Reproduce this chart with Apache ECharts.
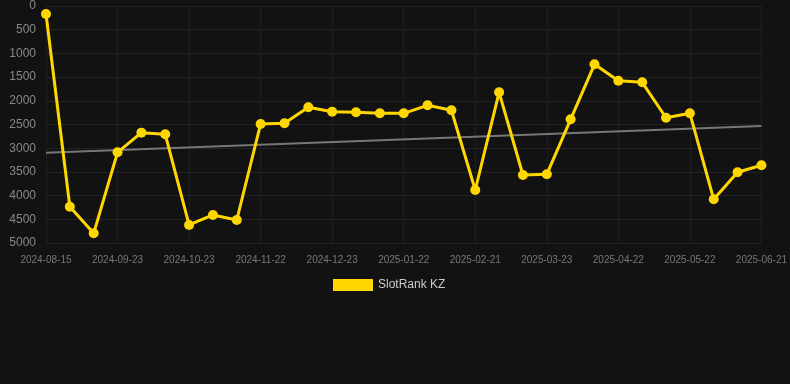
<!DOCTYPE html>
<html>
<head>
<meta charset="utf-8">
<script src="https://cdn.jsdelivr.net/npm/echarts@6/dist/echarts.min.js"></script>
<style>
html,body{margin:0;padding:0;background:#121212;}
#chart{width:790px;height:384px;}
</style>
</head>
<body>
<div id="chart"></div>
<script>
var categories = [
  '2024-08-15','2024-08-28','2024-09-10','2024-09-23','2024-10-03','2024-10-13',
  '2024-10-23','2024-11-02','2024-11-12','2024-11-22','2024-12-02','2024-12-12',
  '2024-12-23','2025-01-02','2025-01-12','2025-01-22','2025-02-01','2025-02-11',
  '2025-02-21','2025-03-03','2025-03-13','2025-03-23','2025-04-02','2025-04-12',
  '2025-04-22','2025-05-02','2025-05-12','2025-05-22','2025-06-01','2025-06-11',
  '2025-06-21'
];
var rankValues = [
  170, 4234, 4796, 3087, 2672, 2707, 4620, 4409, 4515, 2489, 2475, 2137,
  2230, 2243, 2264, 2264, 2095, 2200, 3882, 1821, 3565, 3551, 2390, 1230,
  1576, 1610, 2357, 2264, 4078, 3508, 3361
];
var trendStartEnd = [3095, 2532];
var seriesName = 'SlotRank KZ';

var trendData = categories.map(function (c, i) {
  if (i === 0) return trendStartEnd[0];
  if (i === categories.length - 1) return trendStartEnd[1];
  return null;
});

var chart = echarts.init(document.getElementById('chart'));
chart.setOption({
  backgroundColor: '#121212',
  animation: false,
  grid: { left: 46, right: 28, top: 6, bottom: 141 },
  legend: {
    data: [seriesName],
    left: 328,
    top: 274,
    itemWidth: 40,
    itemHeight: 12,
    icon: 'rect',
    textStyle: { color: '#cccccc', fontSize: 12, fontFamily: 'Arial, Liberation Sans, sans-serif' }
  },
  xAxis: {
    type: 'category',
    data: categories,
    boundaryGap: false,
    axisLine: { show: false },
    axisTick: { show: false },
    axisLabel: { interval: 2, color: '#777777', fontSize: 10, margin: 12, fontFamily: 'Arial, Liberation Sans, sans-serif' },
    splitLine: { show: true, interval: 2, lineStyle: { color: '#1f1f1f', width: 1 } }
  },
  yAxis: {
    type: 'value',
    inverse: true,
    min: 0,
    max: 5000,
    interval: 500,
    axisLine: { show: false },
    axisTick: { show: false },
    axisLabel: { color: '#888888', fontSize: 12, margin: 10, fontFamily: 'Arial, Liberation Sans, sans-serif',
      formatter: function (v) { return String(v); } },
    splitLine: { show: true, lineStyle: { color: '#222222', width: 1 } }
  },
  series: [
    {
      name: seriesName,
      type: 'line',
      data: rankValues,
      color: '#FFD700',
      symbol: 'circle',
      symbolSize: 10,
      lineStyle: { width: 3, color: '#FFD700' },
      itemStyle: { color: '#FFD700' },
      z: 3
    },
    {
      name: 'trend',
      type: 'line',
      data: trendData,
      connectNulls: true,
      symbol: 'none',
      lineStyle: { width: 2, color: '#777777' },
      itemStyle: { color: '#777777' },
      z: 2,
      silent: true
    }
  ]
});
</script>
</body>
</html>
